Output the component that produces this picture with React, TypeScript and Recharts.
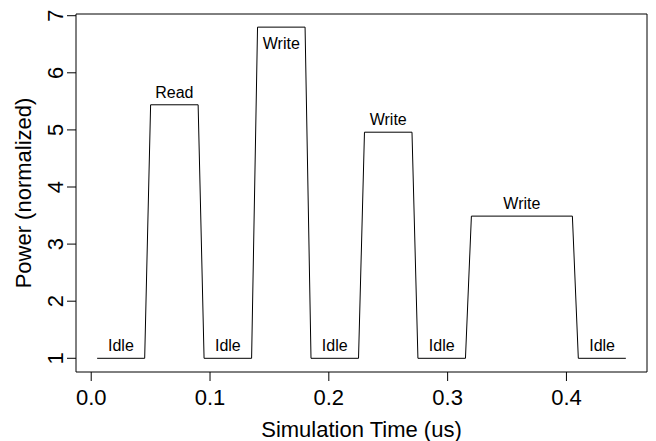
import { ComposedChart, Line, Scatter, XAxis, YAxis, ReferenceArea } from "recharts"

// waveform corners (time in us, normalized power)
const time = [
  0.005, 0.045, 0.05, 0.09, 0.095, 0.135, 0.14, 0.18, 0.185, 0.225, 0.23, 0.27, 0.275, 0.315, 0.32, 0.405,
  0.41, 0.45,
]
const power = [1, 1, 5.44, 5.44, 1, 1, 6.8, 6.8, 1, 1, 4.96, 4.96, 1, 1, 3.49, 3.49, 1, 1]

// one state per flat segment
const states = ["Idle", "Read", "Idle", "Write", "Idle", "Write", "Idle", "Write", "Idle"]

const xTicks = [0, 0.1, 0.2, 0.3, 0.4]
const yTicks = [1, 2, 3, 4, 5, 6, 7]

const X_DOMAIN: [number, number] = [-0.0128, 0.4678]
const Y_DOMAIN: [number, number] = [0.76, 7.03]
const FONT = "'Liberation Sans', Arial, Helvetica, sans-serif"

const linePts = time.map((t, i) => ({ x: t, y: power[i] }))
const labelPts = states.map((s, i) => ({
  x: (time[2 * i] + time[2 * i + 1]) / 2,
  y: power[2 * i],
  name: s,
}))

function XTick({ x, y, payload }: any) {
  return (
    <text x={x} y={y + 22} textAnchor="middle" fontSize={22} fill="#000" fontFamily={FONT}>
      {Number(payload.value).toFixed(1)}
    </text>
  )
}

function YTick({ x, y, payload }: any) {
  return (
    <text
      transform={`translate(${x - 2.5},${y}) rotate(-90)`}
      textAnchor="middle"
      fontSize={22}
      fill="#000"
      fontFamily={FONT}
    >
      {payload.value}
    </text>
  )
}

function StateLabel({ cx, cy, payload }: any) {
  // the tallest peak has no room above it, so its label goes inside
  const below = cy < 40
  return (
    <text
      x={cx}
      y={below ? cy + 21.5 : cy - 7}
      textAnchor="middle"
      fontSize={16}
      fill="#000"
      fontFamily={FONT}
    >
      {payload.name}
    </text>
  )
}

export default function App() {
  return (
    <div style={{ position: "absolute", left: 0, top: 0, background: "#fff" }}>
      <ComposedChart width={656} height={441} margin={{ top: 14, right: 9, bottom: 0, left: 0 }}>
        <XAxis
          type="number"
          dataKey="x"
          domain={X_DOMAIN}
          ticks={xTicks}
          interval={0}
          allowDataOverflow
          axisLine={false}
          tickLine={{ stroke: "#000" }}
          tickSize={9}
          height={69}
          tick={<XTick />}
          label={{
            content: ({ viewBox }: any) => (
              <text
                x={viewBox.x + viewBox.width / 2}
                y={436.5}
                textAnchor="middle"
                fontSize={22}
                fill="#000"
                fontFamily={FONT}
              >
                Simulation Time (us)
              </text>
            ),
          }}
        />
        <YAxis
          type="number"
          domain={Y_DOMAIN}
          ticks={yTicks}
          interval={0}
          allowDataOverflow
          axisLine={false}
          tickLine={{ stroke: "#000" }}
          tickSize={9}
          width={76}
          tick={<YTick />}
          label={{
            content: ({ viewBox }: any) => (
              <text
                transform={`translate(30.5,${viewBox.y + viewBox.height / 2}) rotate(-90)`}
                textAnchor="middle"
                fontSize={22}
                fill="#000"
                fontFamily={FONT}
              >
                Power (normalized)
              </text>
            ),
          }}
        />
        <ReferenceArea
          x1={X_DOMAIN[0]}
          x2={X_DOMAIN[1]}
          y1={Y_DOMAIN[0]}
          y2={Y_DOMAIN[1]}
          fill="none"
          stroke="#000"
          strokeWidth={1}
          ifOverflow="visible"
        />
        <Line
          data={linePts}
          dataKey="y"
          type="linear"
          stroke="#000"
          strokeWidth={1}
          dot={false}
          activeDot={false}
          isAnimationActive={false}
        />
        <Scatter data={labelPts} dataKey="y" shape={<StateLabel />} isAnimationActive={false} />
      </ComposedChart>
    </div>
  )
}
